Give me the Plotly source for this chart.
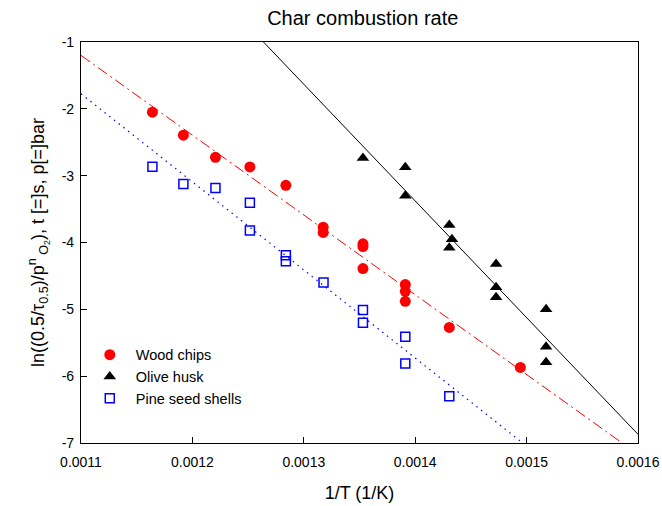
import plotly.graph_objects as go

# ---- data ----
wood_x = [0.0011641, 0.0011919, 0.0012207, 0.0012516, 0.0012839, 0.0013174, 0.0013174,
          0.0013531, 0.0013531, 0.0013531, 0.0013911, 0.0013911, 0.0013911, 0.0014306, 0.0014944]
wood_y = [-2.05, -2.395, -2.725, -2.87, -3.145, -3.77, -3.85,
          -4.02, -4.06, -4.39, -4.63, -4.73, -4.88, -5.27, -5.87]

olive_x = [0.0013531, 0.0013911, 0.0013911, 0.0014306, 0.0014330, 0.0014306,
           0.0014726, 0.0014726, 0.0014726, 0.0015175, 0.0015175, 0.0015175]
olive_y = [-2.735, -2.875, -3.30, -3.74, -3.95, -4.08,
           -4.32, -4.67, -4.82, -5.0, -5.56, -5.79]

pine_x = [0.0011641, 0.0011919, 0.0012207, 0.0012516, 0.0012516, 0.0012839, 0.0012839,
          0.0013177, 0.0013531, 0.0013531, 0.0013911, 0.0013911, 0.0014306]
pine_y = [-2.865, -3.125, -3.185, -3.405, -3.82, -4.19, -4.28,
          -4.60, -5.01, -5.20, -5.41, -5.81, -6.30]

# linear fits: y = intercept + slope * x
wood_fit = (-1.2 + 11939 * 0.0011, -11939.0)
olive_fit = (-1.0 + 17460 * 0.0012638, -17460.0)
pine_fit = (-1.775 + 13178 * 0.0011, -13178.0)
fit_x = [0.0011, 0.0016]

x_ticks = [0.0011, 0.0012, 0.0013, 0.0014, 0.0015, 0.0016]
x_ticklabels = ["0.0011", "0.0012", "0.0013", "0.0014", "0.0015", "0.0016"]
y_ticks = [-7, -6, -5, -4, -3, -2, -1]
y_ticklabels = ["-7", "-6", "-5", "-4", "-3", "-2", "-1"]

FONT = "Liberation Sans, Arial, sans-serif"


def fit_line(fit):
    a, b = fit
    return [a + b * x for x in fit_x]


fig = go.Figure()

fig.add_trace(go.Scatter(x=fit_x, y=fit_line(wood_fit), mode="lines", showlegend=False,
                         line=dict(color="#ff0000", width=1, dash="11px,4px,2px,4px"),
                         hoverinfo="skip"))
fig.add_trace(go.Scatter(x=fit_x, y=fit_line(olive_fit), mode="lines", showlegend=False,
                         line=dict(color="#000000", width=1), hoverinfo="skip"))
fig.add_trace(go.Scatter(x=fit_x, y=fit_line(pine_fit), mode="lines", showlegend=False,
                         line=dict(color="#0000ff", width=1.2, dash="1.5px,4.5px"),
                         hoverinfo="skip"))

fig.add_trace(go.Scatter(x=wood_x, y=wood_y, mode="markers", name="Wood chips",
                         marker=dict(symbol="circle", size=11, color="#ff0000",
                                     line=dict(width=0))))
fig.add_trace(go.Scatter(x=olive_x, y=olive_y, mode="markers", name="Olive husk",
                         marker=dict(symbol="triangle-up", size=11, color="#000000",
                                     line=dict(width=0))))
fig.add_trace(go.Scatter(x=pine_x, y=pine_y, mode="markers", name="Pine seed shells",
                         marker=dict(symbol="square-open", size=9, color="#0000ff",
                                     line=dict(width=1.5, color="#0000ff"))))

axis_common = dict(showgrid=False, zeroline=False, showline=True, linecolor="black",
                   linewidth=1.2, mirror=True, ticks="inside", ticklen=6, tickwidth=1,
                   tickcolor="black", tickfont=dict(family=FONT, size=14, color="black"),
                   automargin=False)

fig.update_layout(
    width=662, height=506,
    margin=dict(l=81, r=24, t=42, b=63),
    paper_bgcolor="white", plot_bgcolor="white",
    font=dict(family=FONT, color="black"),
    title=dict(text="Char combustion rate", x=0.548, xanchor="center", y=0.965, yanchor="middle",
               font=dict(family=FONT, size=20, color="black")),
    xaxis=dict(range=[0.0011, 0.0016], tickvals=x_ticks, ticktext=x_ticklabels,
               ticklabelstandoff=6,
               title=dict(text="1/T (1/K)", font=dict(family=FONT, size=18), standoff=17),
               **axis_common),
    yaxis=dict(range=[-7, -1], tickvals=y_ticks, ticktext=y_ticklabels,
               ticklabelstandoff=3,
               title=dict(text="ln((0.5/τ<sub>0.5</sub>)/p<sup>n</sup><sub> O<sub>2</sub></sub>), t [=]s, p[=]bar",
                          font=dict(family=FONT, size=18), standoff=12),
               **axis_common),
    legend=dict(x=0.005, y=0.26, xanchor="left", yanchor="top", bgcolor="rgba(0,0,0,0)",
                font=dict(family=FONT, size=14.5, color="black"), itemwidth=42,
                tracegroupgap=0),
)

fig.write_html("out.html")
